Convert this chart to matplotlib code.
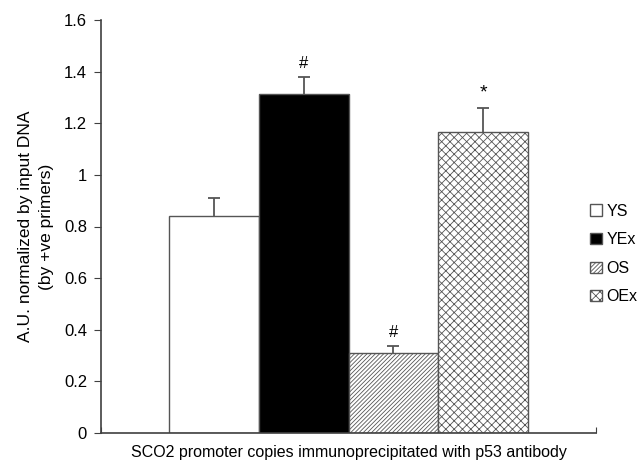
import numpy as np
import matplotlib.pyplot as plt

plt.rcParams['font.family'] = ['Liberation Sans', 'DejaVu Sans']
plt.rcParams['hatch.linewidth'] = 0.6
plt.rcParams['hatch.color'] = '#333333'

groups = ['YS', 'YEx', 'OS', 'OEx']
means = [0.842, 1.315, 0.310, 1.165]
errors = [0.068, 0.063, 0.027, 0.095]
marks = ['', '#', '#', '*']

faces = ['white', 'black', 'white', 'white']
hatches = [None, None, '////////', 'xxxx']

fig = plt.figure(figsize=(6.43, 4.67), dpi=100)
ax = fig.add_axes([101 / 643, 34 / 467, 495 / 643, 413 / 467])

x = np.arange(len(groups))
bars = ax.bar(x, means, width=1.0, color=faces, edgecolor='#555555',
              linewidth=1.0, label=groups, zorder=2)
for b, h in zip(bars, hatches):
    if h:
        b.set_hatch(h)

# upper-only error bars: stem from bar top plus a cap at the end
tops = np.array(means) + np.array(errors)
ax.vlines(x, means, tops, color='#555555', linewidth=1.3, zorder=3)
ax.plot(x, tops, linestyle='none', marker='_', markersize=8,
        markeredgewidth=1.3, color='#555555', zorder=3)

for xi, t, s in zip(x, tops, marks):
    if s:
        size = 14 if s == '*' else 12
        ax.text(xi, t + 0.025, s, ha='center', va='bottom', fontsize=size)

ax.set_xlim(-1.26, 4.26)
ax.set_ylim(0, 1.6)
ax.set_yticks(np.arange(0, 1.61, 0.2))
ax.set_yticklabels(['0', '0.2', '0.4', '0.6', '0.8', '1', '1.2', '1.4', '1.6'])
ax.set_xticks([-1.26, 4.26])
ax.set_xticklabels([])
ax.tick_params(axis='x', direction='in', length=4, color='#404040')
ax.tick_params(axis='y', direction='out', length=5, color='#404040',
               labelsize=12, pad=5)

for side in ['top', 'right']:
    ax.spines[side].set_visible(False)
for side in ['left', 'bottom']:
    ax.spines[side].set_color('#404040')
    ax.spines[side].set_linewidth(1.2)

ax.set_ylabel('A.U. normalized by input DNA\n(by +ve primers)', fontsize=12.5,
              labelpad=7, linespacing=1.5)
ax.set_xlabel('SCO2 promoter copies immunoprecipitated with p53 antibody',
              fontsize=11.5, labelpad=5)

fig.legend(handles=list(bars), labels=groups, loc='center left',
           bbox_to_anchor=(584 / 643, 1 - 254 / 467), frameon=False,
           fontsize=11.5, handlelength=0.7, handleheight=0.7,
           handletextpad=0.3, labelspacing=0.85, borderaxespad=0)

fig.savefig('out.png', dpi=100)
